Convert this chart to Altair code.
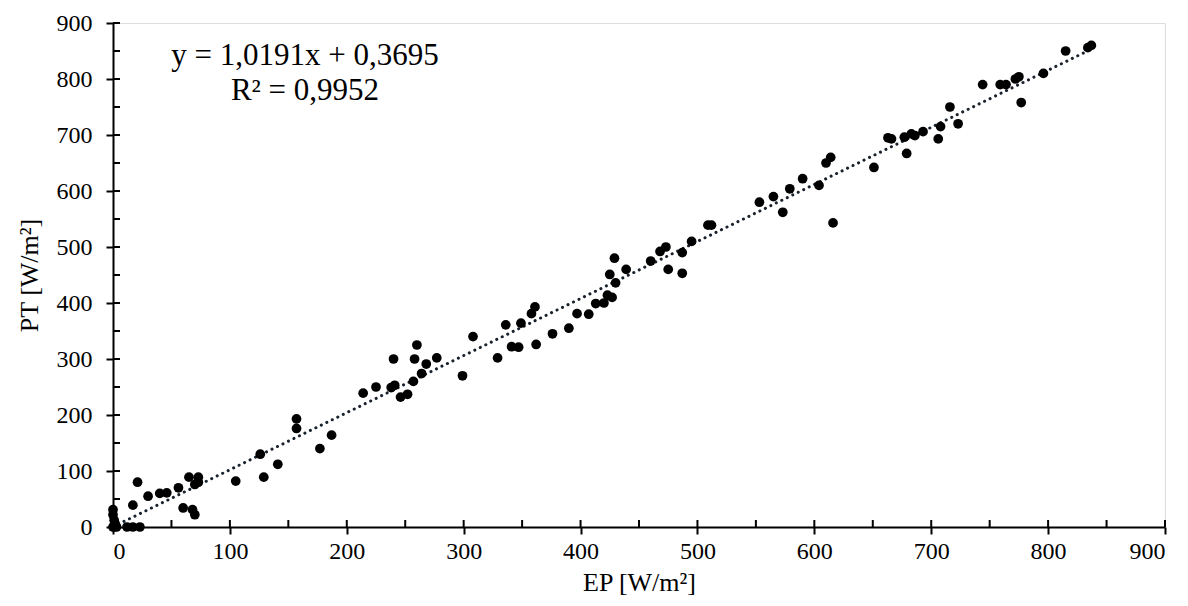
import altair as alt
import pandas as pd

ep = [0, 1, 3, 0, 0, 1, 2, 12, 17, 23,
      17, 21, 30, 40, 46, 56, 60, 65, 73, 70, 73, 68, 70,
      105, 126, 129, 141, 157, 157, 177, 187,
      214, 225, 240, 238, 241, 246, 252, 257, 260, 258, 264, 268, 277, 299, 308, 329,
      336, 341, 347, 349, 358, 361, 362, 376, 390,
      397, 407, 413, 420, 423, 427, 425, 429, 430, 439, 460, 468, 473, 475, 487, 487, 495, 509, 512,
      553, 565, 573, 579, 590, 604, 610, 614, 616, 651, 663, 666, 679, 677, 683, 686, 693,
      706, 708, 716, 723, 744, 759, 764, 772, 775, 777, 796, 815, 834, 837]
pt = [0, 0, 0, 31, 22, 12, 5, 0, 0, 0,
      39, 80, 55, 60, 61, 70, 34, 89, 89, 76, 80, 31, 22,
      82, 130, 89, 112, 193, 176, 140, 164,
      239, 250, 300, 249, 253, 232, 237, 260, 325, 300, 274, 291, 302, 270, 340, 302,
      361, 322, 321, 364, 381, 393, 326, 345, 355,
      381, 380, 399, 400, 414, 410, 451, 480, 436, 460, 475, 492, 500, 460, 490, 453, 510, 539, 539,
      580, 590, 562, 604, 622, 610, 650, 660, 543, 642, 695, 693, 667, 696, 702, 699, 706,
      693, 715, 750, 720, 790, 790, 790, 800, 804, 758, 810, 850, 856, 860]

slope, intercept = 1.0191, 0.3695
trend_x = [0, 838]
minor_ticks = [0, 50, 100, 150, 200, 250, 300, 350, 400, 450, 500, 550, 600, 650, 700, 750, 800, 850, 900]
major_ticks = [0, 100, 200, 300, 400, 500, 600, 700, 800, 900]

W, H = 1052, 504
FONT = "Liberation Serif"

pts = pd.DataFrame({"ep": ep, "pt": pt})
trend = pd.DataFrame({"ep": trend_x, "pt": [slope * v + intercept for v in trend_x]})
ticks = pd.DataFrame({"v": minor_ticks})

xs = alt.Scale(domain=[0, 900], nice=False, zero=False)
ys = alt.Scale(domain=[0, 900], nice=False, zero=False)

xaxis = alt.Axis(values=major_ticks, title="EP [W/m²]", grid=False, tickSize=7, tickWidth=2,
                 tickColor="black", domainColor="black", domainWidth=2, labelFont=FONT,
                 labelFontSize=24, labelColor="black", titleFont=FONT, titleFontSize=26,
                 titleFontWeight="normal", titleColor="black", labelPadding=5, titlePadding=6)
yaxis = alt.Axis(values=major_ticks, title="PT [W/m²]", grid=False, tickSize=7, tickWidth=2,
                 tickColor="black", domainColor="black", domainWidth=2, labelFont=FONT,
                 labelFontSize=24, labelColor="black", titleFont=FONT, titleFontSize=26,
                 titleFontWeight="normal", titleColor="black", labelPadding=14, titlePadding=14)

points = alt.Chart(pts).mark_circle(size=95, color="black", opacity=1).encode(
    x=alt.X("ep:Q", scale=xs, axis=xaxis),
    y=alt.Y("pt:Q", scale=ys, axis=yaxis),
)

line = alt.Chart(trend).mark_line(color="#18212c", strokeWidth=3, strokeDash=[0.1, 6],
                                   strokeCap="round").encode(
    x=alt.X("ep:Q", scale=xs), y=alt.Y("pt:Q", scale=ys))

xt = alt.Chart(ticks).mark_rule(color="black", strokeWidth=2).encode(
    x=alt.X("v:Q", scale=xs), y=alt.value(H), y2=alt.value(H - 7))
yt = alt.Chart(ticks).mark_rule(color="black", strokeWidth=2).encode(
    y=alt.Y("v:Q", scale=ys), x=alt.value(0), x2=alt.value(7))

eq = alt.Chart(pd.DataFrame({"t": ["y = 1,0191x + 0,3695"]})).mark_text(
    font=FONT, fontSize=31, color="black", align="center", baseline="middle").encode(
    text="t:N", x=alt.value(192), y=alt.value(33))
r2 = alt.Chart(pd.DataFrame({"t": ["R² = 0,9952"]})).mark_text(
    font=FONT, fontSize=31, color="black", align="center", baseline="middle").encode(
    text="t:N", x=alt.value(192), y=alt.value(68))

chart = alt.layer(line, points, xt, yt, eq, r2).properties(
    width=W, height=H,
    autosize=alt.AutoSizeParams(type="none"),
    padding={"left": 105, "top": 15, "right": 14, "bottom": 76},
).configure_view(stroke="black", strokeWidth=1.5).configure(background="white")

chart.save("out.html", embed_options={"renderer": "svg", "actions": False})
